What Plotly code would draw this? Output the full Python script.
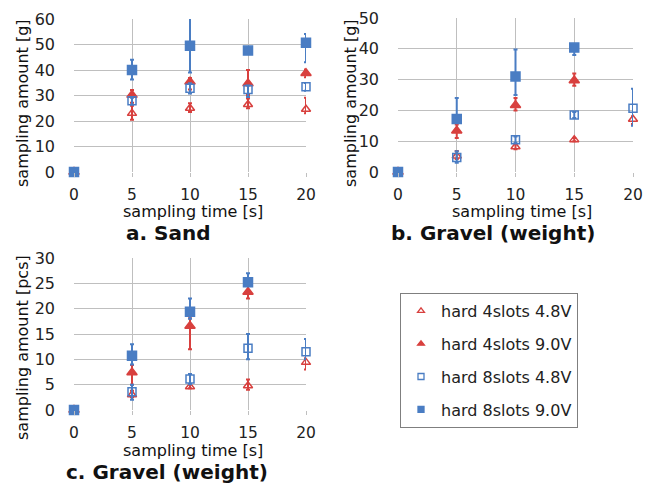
import plotly.graph_objects as go

t = [0, 5, 10, 15, 20]
series_names = ["hard 4slots 4.8V", "hard 4slots 9.0V", "hard 8slots 4.8V", "hard 8slots 9.0V"]

# Panel a: Sand [g]
a_vals = [
    [0, 23.0, 25.0, 26.5, 24.6],
    [0, 30.2, 35.4, 34.7, 38.7],
    [0, 27.9, 32.8, 32.4, 33.4],
    [0, 40.0, 49.5, 47.6, 50.7],
]
a_plus = [
    [0, 3.0, 2.0, 2.3, 4.5],
    [0, 2.0, 1.5, 5.3, 1.5],
    [0, 1.2, 2.0, 1.5, 1.5],
    [0, 4.0, 11.0, 1.2, 3.4],
]
a_minus = [
    [0, 2.5, 1.5, 1.5, 1.6],
    [0, 3.0, 3.0, 4.5, 1.5],
    [0, 1.5, 2.0, 3.0, 1.5],
    [0, 3.7, 10.5, 1.0, 7.7],
]

# Panel b: Gravel (weight) [g]
b_vals = [
    [0, 5.2, 8.2, 10.5, 17.1],
    [0, 13.4, 21.7, 29.7, None],
    [0, 4.7, 10.5, 18.5, 20.7],
    [0, 17.2, 31.0, 40.4, None],
]
b_plus = [
    [0, 1.6, 0.8, 0.5, 1.0],
    [0, 2.0, 2.3, 2.3, 0],
    [0, 2.0, 1.0, 1.0, 6.3],
    [0, 6.8, 8.8, 0.8, 0],
]
b_minus = [
    [0, 1.0, 0.8, 0.5, 1.5],
    [0, 2.4, 1.7, 1.7, 0],
    [0, 1.7, 1.0, 1.0, 5.7],
    [0, 1.0, 6.0, 2.4, 0],
]

# Panel c: Gravel [pcs]
c_vals = [
    [0, 3.0, 4.6, 4.8, 9.4],
    [0, 7.4, 16.6, 23.3, None],
    [0, 3.6, 6.1, 12.2, 11.5],
    [0, 10.7, 19.4, 25.2, None],
]
c_plus = [
    [0, 0.8, 0.5, 1.2, 0.8],
    [0, 1.5, 1.5, 1.2, 0],
    [0, 1.4, 1.0, 2.8, 2.5],
    [0, 2.3, 2.6, 1.8, 0],
]
c_minus = [
    [0, 0.5, 0.3, 0.8, 1.4],
    [0, 2.4, 4.6, 1.3, 0],
    [0, 1.6, 1.0, 2.2, 1.5],
    [0, 1.7, 1.4, 0.2, 0],
]

RED = "#D8403E"
BLUE = "#4A7DC3"
colors = [RED, RED, BLUE, BLUE]
symbols = ["triangle-up-open", "triangle-up", "square-open", "square"]
sizes = [8, 9, 8, 9]

FONT = "DejaVu Sans"
fig = go.Figure()

panels = [
    ("x", "y", a_vals, a_plus, a_minus),
    ("x2", "y2", b_vals, b_plus, b_minus),
    ("x3", "y3", c_vals, c_plus, c_minus),
]
for p, (xa, ya, vals, plus, minus) in enumerate(panels):
    for i in range(4):
        fig.add_trace(go.Scatter(
            x=t, y=vals[i], xaxis=xa, yaxis=ya, mode="markers",
            name=series_names[i], legendgroup=series_names[i],
            showlegend=False,
            marker=dict(symbol=symbols[i], size=sizes[i], color=colors[i],
                        line=dict(width=1.5, color=colors[i])),
            error_y=dict(type="data", symmetric=False, array=plus[i],
                         arrayminus=minus[i], color=colors[i],
                         thickness=2, width=2),
            cliponaxis=False,
        ))

# legend entries (small symbols as in the reference)
for i in range(4):
    fig.add_trace(go.Scatter(
        x=[None], y=[None], xaxis="x", yaxis="y", mode="markers",
        name=series_names[i], legendgroup=series_names[i], showlegend=True,
        marker=dict(symbol=symbols[i], size=6, color=colors[i],
                    line=dict(width=1.3, color=colors[i])),
    ))

W, H = 655, 484
OFF = 8  # page body margin of the html page
def px_x(v): return (v - OFF) / W
def px_y(v): return 1 - (v - OFF) / H

grid = "#BFBFBF"
common_x = dict(range=[0, 20], tickvals=[0, 5, 10, 15, 20], showgrid=True,
                gridcolor=grid, gridwidth=1, zeroline=False, showline=False,
                tickfont=dict(family=FONT, size=15.5, color="#222"),
                ticks="outside", ticklen=4, tickcolor=grid, tickwidth=1,
                ticklabelstandoff=4, fixedrange=True, automargin=False)
common_y = dict(showgrid=True, gridcolor=grid, gridwidth=1, zeroline=False,
                showline=False, tickfont=dict(family=FONT, size=16, color="#222"),
                ticks="", ticklabelstandoff=18, fixedrange=True, automargin=False)

fig.update_layout(
    width=W, height=H, margin=dict(l=0, r=0, t=0, b=0, pad=0, autoexpand=False),
    paper_bgcolor="white", plot_bgcolor="white",
    xaxis=dict(domain=[px_x(74), px_x(306)], anchor="y", **common_x),
    yaxis=dict(domain=[px_y(172), px_y(19)], anchor="x", range=[0, 60],
               tickvals=[0, 10, 20, 30, 40, 50, 60], **common_y),
    xaxis2=dict(domain=[px_x(398), px_x(633)], anchor="y2", **common_x),
    yaxis2=dict(domain=[px_y(172), px_y(18)], anchor="x2", range=[0, 50],
                tickvals=[0, 10, 20, 30, 40, 50], **common_y),
    xaxis3=dict(domain=[px_x(74), px_x(306)], anchor="y3", **common_x),
    yaxis3=dict(domain=[px_y(410), px_y(258)], anchor="x3", range=[0, 30],
                tickvals=[0, 5, 10, 15, 20, 25, 30], **common_y),
    legend=dict(x=px_x(400), y=px_y(293), xanchor="left", yanchor="top",
                bordercolor="#7F7F7F", borderwidth=1, bgcolor="white",
                font=dict(family=FONT, size=16, color="#222"),
                tracegroupgap=9, itemsizing="trace", itemwidth=30),
    showlegend=True,
)

annots = [
    # y titles
    (22, 103, "sampling amount [g]", 16, -90),
    (350, 103, "sampling amount [g]", 16, -90),
    (22, 348, "sampling amount [pcs]", 16, -90),
    # x titles
    (193, 211, "sampling time [s]", 16, 0),
    (522, 211, "sampling time [s]", 16, 0),
    (193, 450, "sampling time [s]", 16, 0),
    # captions
    (168, 233, "<b>a. Sand</b>", 20, 0),
    (493, 233, "<b>b. Gravel (weight)</b>", 20, 0),
    (167, 472, "<b>c. Gravel (weight)</b>", 20, 0),
]
for x, y, text, size, ang in annots:
    fig.add_annotation(x=px_x(x), y=px_y(y), xref="paper", yref="paper",
                       text=text, showarrow=False, textangle=ang,
                       xanchor="center", yanchor="middle",
                       font=dict(family=FONT, size=size, color="#111"))

fig.write_html("out.html")
